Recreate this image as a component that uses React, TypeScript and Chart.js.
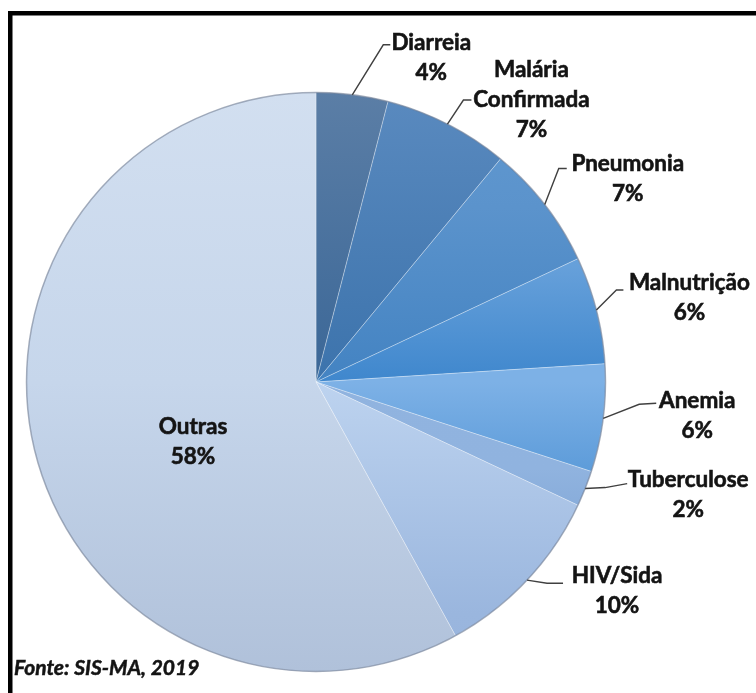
import React, { useEffect, useRef } from "react";
import { Chart, registerables } from "chart.js";

Chart.register(...registerables);

// ---- Data ----
const categories = [
  "Diarreia",
  "Malária Confirmada",
  "Pneumonia",
  "Malnutrição",
  "Anemia",
  "Tuberculose",
  "HIV/Sida",
  "Outras",
];
const labelLines = [
  ["Diarreia"],
  ["Malária", "Confirmada"],
  ["Pneumonia"],
  ["Malnutrição"],
  ["Anemia"],
  ["Tuberculose"],
  ["HIV/Sida"],
  ["Outras"],
];
const values = [4, 7, 7, 6, 6, 2, 10, 58];
const percentLabels = ["4%", "7%", "7%", "6%", "6%", "2%", "10%", "58%"];
const sourceText = "Fonte: SIS-MA, 2019";

// ---- Styles ----
const gradientStops: [number, string][][] = [
  [[0, "#5b7ea6"], [0.5, "#3b6797"], [1, "#3b6797"]],
  [[0, "#5a8abf"], [0.5, "#3c73ac"], [1, "#3c73ac"]],
  [[0, "#6199d0"], [0.2, "#5b93cc"], [0.5, "#4383c2"], [1, "#4383c2"]],
  [[0, "#6ea6de"], [0.3, "#66a0da"], [0.5, "#3f87cd"], [1, "#3f87cd"]],
  [[0, "#7db1e6"], [0.5, "#7db1e6"], [0.66, "#5c9bd9"], [1, "#5c9bd9"]],
  [[0, "#92b5e0"], [0.65, "#90b3df"], [0.75, "#84a9d8"], [1, "#84a9d8"]],
  [[0, "#bdd3ef"], [0.5, "#bdd3ef"], [0.9, "#9ab6de"], [1, "#98b4dd"]],
  [[0, "#d2dff0"], [0.5, "#c6d6eb"], [1, "#b0c1da"]],
];

// offsets relative to the arc's outer mid point: elbow, line end, text centre (first line)
const labelLayout: { inside?: boolean; elbow: number[]; end: number[]; text: number[] }[] = [
  { elbow: [31, -50], end: [38, -50], text: [79, -52] },
  { elbow: [16, -24], end: [24, -24], text: [84, -54] },
  { elbow: [14, -36], end: [22, -36], text: [83, -41] },
  { elbow: [20, -20], end: [27, -20], text: [93, -27] },
  { elbow: [36, -14], end: [53, -15], text: [94, -18] },
  { elbow: [20, -1], end: [42, -5], text: [103, -9] },
  { elbow: [20, 3], end: [36, 3], text: [90, -4] },
  { inside: true, elbow: [0, 0], end: [0, 0], text: [-123, 45] },
];

const FONT = "bold 22.5px Lato, 'Open Sans', sans-serif";
const LINE_H = 30;

const labelPlugin = {
  id: "customLabels",
  afterDatasetsDraw(chart: any) {
    const ctx = chart.ctx as CanvasRenderingContext2D;
    const meta = chart.getDatasetMeta(0);
    const first = meta.data[0];
    if (!first) return;
    const cx = first.x;
    const cy = first.y;
    const r = first.outerRadius;
    // outer ring
    ctx.save();
    ctx.beginPath();
    ctx.arc(cx, cy, r, 0, Math.PI * 2);
    ctx.strokeStyle = "rgba(95,110,135,0.55)";
    ctx.lineWidth = 1.5;
    ctx.stroke();
    ctx.restore();

    ctx.save();
    ctx.font = FONT;
    ctx.fillStyle = "#141414";
    ctx.textAlign = "center";
    ctx.textBaseline = "middle";
    meta.data.forEach((arc: any, i: number) => {
      const mid = (arc.startAngle + arc.endAngle) / 2;
      const px = cx + Math.cos(mid) * r;
      const py = cy + Math.sin(mid) * r;
      const lay = labelLayout[i];
      let tx: number, ty: number;
      if (lay.inside) {
        tx = cx + lay.text[0];
        ty = cy + lay.text[1];
      } else {
        ctx.beginPath();
        ctx.moveTo(px, py);
        ctx.lineTo(px + lay.elbow[0], py + lay.elbow[1]);
        ctx.lineTo(px + lay.end[0], py + lay.end[1]);
        ctx.strokeStyle = "#404040";
        ctx.lineWidth = 1.4;
        ctx.stroke();
        tx = px + lay.text[0];
        ty = py + lay.text[1];
      }
      const lines = [...labelLines[i], percentLabels[i]];
      ctx.strokeStyle = "#141414";
      ctx.lineWidth = 0.6;
      lines.forEach((t, k) => {
        ctx.fillText(t, tx, ty + k * LINE_H);
        ctx.strokeText(t, tx, ty + k * LINE_H);
      });
    });
    ctx.restore();
  },
  afterDraw(chart: any) {
    const ctx = chart.ctx as CanvasRenderingContext2D;
    ctx.save();
    ctx.fillStyle = "#000";
    ctx.fillRect(8, 11, 4.5, chart.height - 11);
    ctx.fillRect(8, 11, chart.width - 8, 4.5);
    ctx.font = "italic bold 21px Lato, 'Open Sans', sans-serif";
    ctx.fillStyle = "#141414";
    ctx.strokeStyle = "#141414";
    ctx.lineWidth = 0.5;
    ctx.textAlign = "left";
    ctx.textBaseline = "middle";
    ctx.fillText(sourceText, 14, 668);
    ctx.strokeText(sourceText, 14, 668);
    ctx.restore();
  },
};

export default function App() {
  const ref = useRef<HTMLCanvasElement | null>(null);
  useEffect(() => {
    document.body.style.margin = "0";
    const canvas = ref.current;
    if (!canvas) return;
    const chart = new Chart(canvas, {
      type: "pie",
      data: {
        labels: categories,
        datasets: [
          {
            data: values,
            backgroundColor: (c: any) => {
              const area = c.chart.chartArea;
              const i = c.dataIndex;
              if (!area || i === undefined) return gradientStops[0][0][1];
              const g = c.chart.ctx.createLinearGradient(0, area.top, 0, area.bottom);
              gradientStops[i].forEach(([p, col]) => g.addColorStop(p, col));
              return g;
            },
            borderColor: "rgba(255,255,255,0.3)",
            borderWidth: 1,
            hoverOffset: 0,
          },
        ],
      },
      options: {
        responsive: false,
        animation: false,
        events: [],
        layout: { padding: { left: 26, right: 150, top: 92, bottom: 21 } },
        plugins: {
          legend: { display: false },
          tooltip: { enabled: false },
        },
      },
      plugins: [labelPlugin],
    });
    return () => chart.destroy();
  }, []);
  return (
    <div style={{ width: 756, height: 693, background: "#fff" }}>
      <canvas ref={ref} width={756} height={693} style={{ display: "block", width: 756, height: 693 }} />
    </div>
  );
}
